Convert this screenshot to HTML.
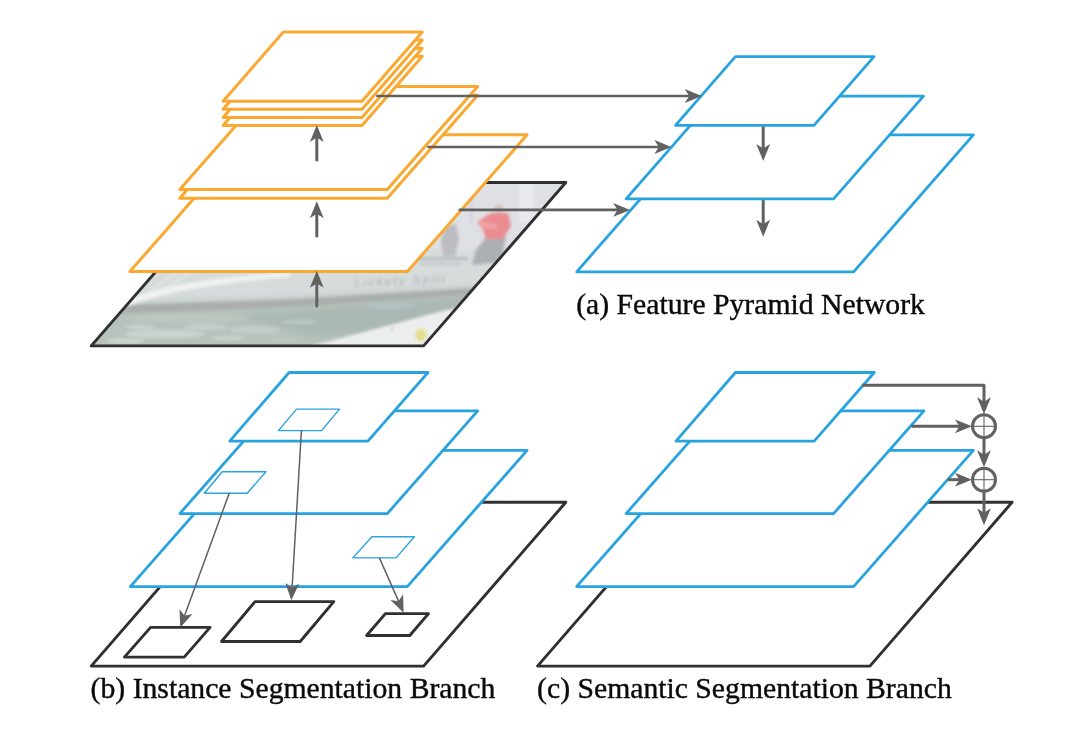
<!DOCTYPE html>
<html lang="en"><head><meta charset="utf-8"><title>Panoptic FPN</title>
<style>html,body{margin:0;padding:0;background:#fff}body{width:1082px;height:731px;overflow:hidden}svg{display:block}text{font-family:"Liberation Serif","Times New Roman",serif;fill:#111}.cap{font-size:29.7px;fill:#0a0a0a;stroke:#0a0a0a;stroke-width:0.4px;paint-order:stroke}</style></head><body>
<svg width="1082" height="731" viewBox="0 0 1082 731">
<defs>
<path id="ah" d="M0,0 L-17,-6.9 L-12.6,0 L-17,6.9 Z" fill="#616161"/>
<clipPath id="imgclip"><polygon points="233.4,182.5 565.8,182.5 423.6,345.9 91.2,345.9"/></clipPath>
<filter id="blur1" x="-20%" y="-20%" width="140%" height="140%"><feGaussianBlur stdDeviation="1.5"/></filter>
<filter id="blur3" x="-20%" y="-20%" width="140%" height="140%"><feGaussianBlur stdDeviation="3"/></filter>
<filter id="gray" x="-5%" y="-30%" width="110%" height="160%"><feOffset dx="0" dy="0"/></filter>
</defs>
<rect width="1082" height="731" fill="#fff"/>
<g clip-path="url(#imgclip)">
<rect x="80" y="175" width="500" height="180" fill="#c9d0cc"/>
<g filter="url(#blur3)">
<rect x="60" y="160" width="540" height="205" fill="#b6c2bb"/>
<polygon points="230,316 470,296 445,326 320,336" fill="#abb7b2"/>
<polygon points="380,160 600,160 600,272 380,272" fill="#dee0e5"/>
<polygon points="60,250 600,250 600,280 480,287 290,298 136,303 60,306" fill="#d6dbdc"/>
</g>
<g filter="url(#blur1)">
<polygon points="100,306 136,305 290,300 480,288 480,294 290,307 136,313 100,314" fill="#aaaeac"/>
<path d="M118,303 C150,288 200,278 290,272 L290,277 C200,285 160,294 128,306 Z" fill="#f0f2f2"/>
<path d="M150,290 L176,273 M160,292 L190,273" stroke="#eceeee" stroke-width="1.2" fill="none"/>
<ellipse cx="165" cy="334" rx="40" ry="4.5" fill="#cad3cd"/>
<ellipse cx="205" cy="327" rx="22" ry="3" fill="#c6d0ca"/>
<ellipse cx="255" cy="330" rx="26" ry="3.5" fill="#c3cdc7"/>
<ellipse cx="125" cy="341" rx="20" ry="3" fill="#ccd5cf"/>
<ellipse cx="300" cy="322" rx="18" ry="2.5" fill="#bcc7c2"/>
<ellipse cx="390" cy="306" rx="26" ry="3" fill="#b3c3c4"/>
<ellipse cx="190" cy="318" rx="60" ry="4" fill="#bcc7c0"/>
<ellipse cx="140" cy="327" rx="14" ry="2.5" fill="#c8d1cb"/>
<ellipse cx="228" cy="338" rx="18" ry="2.5" fill="#c7d0ca"/>
<ellipse cx="285" cy="340" rx="14" ry="2" fill="#bfc9c3"/>
<polygon points="304,348 446,310 478,304 440,354 304,354" fill="#eceeed"/>
<ellipse cx="421" cy="335" rx="6" ry="6.5" fill="#e4e090"/>
<ellipse cx="392" cy="329" rx="1.5" ry="1" fill="#9a9e9d"/>
<rect x="416" y="257.5" width="52" height="2.5" fill="#b4b7ba"/>
<rect x="420" y="263" width="42" height="2" fill="#bfc2c5"/>
<polygon points="445,226 456,224 459,240 455,256 443,256 441,240" fill="#bbbdc1"/>
<polygon points="487,236 506,236 501,262 472,265 476,250" fill="#acafb4"/>
<polygon points="477,222 491,213 508,213 511,226 503,239 486,239 483,230" fill="#ea8b8f"/>
<polygon points="478,221 496,224 498,229 482,228" fill="#f0a3a5"/>
<ellipse cx="499" cy="209" rx="5" ry="4" fill="#d3bfbc"/>
<rect x="519" y="180" width="15" height="42" fill="#e8e9ec"/>
<rect x="470" y="183" width="3" height="40" fill="#d2d4d9"/>
</g>
<text x="355" y="286.5" font-size="11.5" font-style="italic" style="fill:#9da3a5;font-family:'Liberation Sans',sans-serif" transform="rotate(-3 355 286.5)" textLength="90" filter="url(#blur1)" opacity="0.75">Lickety Split</text>
</g>
<polygon points="233.4,182.5 565.8,182.5 423.6,345.9 91.2,345.9" fill="none" stroke="#303030" stroke-width="2.9" stroke-linejoin="round"/>
<g fill="#fff" stroke="#F9A931" stroke-width="3.0" stroke-linejoin="round">
<polygon points="249.6,134.8 527.1,134.8 407.4,271.6 129.9,271.6"/>
<polygon points="270.2,95.3 477.7,95.3 387.3,198.3 179.8,198.3"/>
<polygon points="270.2,86.6 477.7,86.6 387.3,189.6 179.8,189.6"/>
<polygon points="283.4,56.2 422.3,56.2 362.0,125.4 223.1,125.4"/>
<polygon points="283.4,48.2 422.3,48.2 362.0,117.4 223.1,117.4"/>
<polygon points="283.4,40.1 422.3,40.1 362.0,109.3 223.1,109.3"/>
<polygon points="283.4,32.0 422.3,32.0 362.0,101.2 223.1,101.2"/>
</g>
<g stroke="#616161" stroke-width="3.0" stroke-linecap="round" fill="none">
<line x1="316.8" y1="160.1" x2="316.8" y2="135.0"/>
<line x1="316.8" y1="236.0" x2="316.8" y2="211.2"/>
<line x1="316.8" y1="305.9" x2="316.8" y2="280.8"/>
<line x1="377.4" y1="96.0" x2="691.8" y2="96.0" stroke-width="2.7"/>
<line x1="428.5" y1="147.0" x2="661.4" y2="147.0" stroke-width="2.7"/>
<line x1="459.8" y1="209.9" x2="620.2" y2="209.9" stroke-width="2.7"/>
</g>
<use href="#ah" transform="translate(316.8,125.0) rotate(-90)"/>
<use href="#ah" transform="translate(316.8,201.2) rotate(-90)"/>
<use href="#ah" transform="translate(316.8,270.8) rotate(-90)"/>
<g fill="#fff" stroke="#28A3DF" stroke-width="2.8" stroke-linejoin="round">
<polygon points="696.5,134.8 973.4,134.8 853.6,271.8 576.7,271.8"/>
<polygon points="716.0,96.1 923.5,96.1 833.6,198.9 626.1,198.9"/>
<polygon points="735.4,56.7 874.0,56.7 814.0,125.3 675.5,125.3"/>
</g>
<g stroke="#616161" stroke-width="3.0" stroke-linecap="butt" fill="none">
<line x1="763.2" y1="126.5" x2="763.2" y2="150"/>
<line x1="763.2" y1="200.1" x2="763.2" y2="226"/>
</g>
<use href="#ah" transform="translate(763.2,161.0) rotate(90)"/>
<use href="#ah" transform="translate(763.2,236.8) rotate(90)"/>
<use href="#ah" transform="translate(701.8,96.0)"/>
<use href="#ah" transform="translate(671.4,147.0)"/>
<use href="#ah" transform="translate(630.2,209.9)"/>
<text class="cap" filter="url(#gray)" x="576.2" y="313.5">(a) Feature Pyramid Network</text>
<polygon points="233.4,502.3 565.8,502.3 423.6,666.1 91.2,666.1" fill="#fff" stroke="#303030" stroke-width="2.9" stroke-linejoin="round"/>
<g fill="#fff" stroke="#28A3DF" stroke-width="2.8" stroke-linejoin="round">
<polygon points="250.1,450.3 527.1,450.3 407.3,586.6 130.3,586.6"/>
<polygon points="270.2,410.9 477.7,410.9 387.3,513.6 179.8,513.6"/>
<polygon points="289.1,372.5 428.0,372.5 367.9,441.1 229.7,441.1"/>
</g>
<g fill="none" stroke="#28A3DF" stroke-width="1.4" stroke-linejoin="round">
<polygon points="296.6,409.1 339.5,409.1 321.6,430.6 278.4,430.6"/>
<polygon points="222.3,471.8 265.9,471.8 247.2,493.3 204.3,493.3"/>
<polygon points="371.9,536.7 414.3,536.7 396.1,557.9 352.9,557.9"/>
</g>
<g fill="none" stroke="#303030" stroke-width="2.9" stroke-linejoin="round">
<polygon points="150.6,627.4 210.1,627.4 184.2,657.1 124.4,657.1"/>
<polygon points="255.0,601.6 333.8,601.6 300.2,641.5 221.5,641.5"/>
<polygon points="385.4,613.6 428.5,613.6 409.8,635.5 366.6,635.5"/>
</g>
<line x1="229.2" y1="493.3" x2="184.0" y2="617.3" stroke="#616161" stroke-width="1.5"/>
<use href="#ah" transform="translate(180.2,627.6) rotate(110.0)"/>
<line x1="301.4" y1="430.6" x2="292.0" y2="589.3" stroke="#616161" stroke-width="1.5"/>
<use href="#ah" transform="translate(291.3,600.3) rotate(93.4)"/>
<line x1="379.4" y1="557.9" x2="399.2" y2="602.6" stroke="#616161" stroke-width="1.5"/>
<use href="#ah" transform="translate(403.6,612.7) rotate(66.2)"/>
<text class="cap" filter="url(#gray)" x="90.6" y="697.8">(b) Instance Segmentation Branch</text>
<polygon points="679.7,502.3 1012.1,502.3 869.9,666.1 537.5,666.1" fill="#fff" stroke="#303030" stroke-width="2.9" stroke-linejoin="round"/>
<g fill="#fff" stroke="#28A3DF" stroke-width="2.8" stroke-linejoin="round">
<polygon points="696.4,450.3 973.4,450.3 853.6,586.6 576.6,586.6"/>
<polygon points="716.5,410.9 924.0,410.9 833.6,513.6 626.1,513.6"/>
<polygon points="735.4,372.5 874.3,372.5 814.2,441.1 676.0,441.1"/>
</g>
<g stroke="#616161" stroke-width="3.0" fill="none" stroke-linejoin="round">
<polyline points="862.3,385.3 984.0,385.3 984.0,402"/>
<line x1="911.5" y1="426.3" x2="960" y2="426.3"/>
<line x1="947.7" y1="479.7" x2="960" y2="479.7"/>
<line x1="984.0" y1="437" x2="984.0" y2="456"/>
<line x1="984.0" y1="490.5" x2="984.0" y2="514"/>
<circle cx="984.0" cy="426.3" r="11.5"/>
<circle cx="984.0" cy="479.7" r="11.5"/>
</g>
<g stroke="#616161" stroke-width="1.1">
<line x1="973" y1="426.3" x2="995.2" y2="426.3"/><line x1="984.0" y1="415.3" x2="984.0" y2="437.3"/>
<line x1="973" y1="479.7" x2="995.2" y2="479.7"/><line x1="984.0" y1="468.7" x2="984.0" y2="490.7"/>
</g>
<use href="#ah" transform="translate(984.0,414.3) rotate(90)"/>
<use href="#ah" transform="translate(984.0,467.3) rotate(90)"/>
<use href="#ah" transform="translate(984.0,525.3) rotate(90)"/>
<use href="#ah" transform="translate(972.0,426.3)"/>
<use href="#ah" transform="translate(972.0,479.7)"/>
<text class="cap" filter="url(#gray)" x="537.1" y="697.8">(c) Semantic Segmentation Branch</text>
</svg></body></html>
